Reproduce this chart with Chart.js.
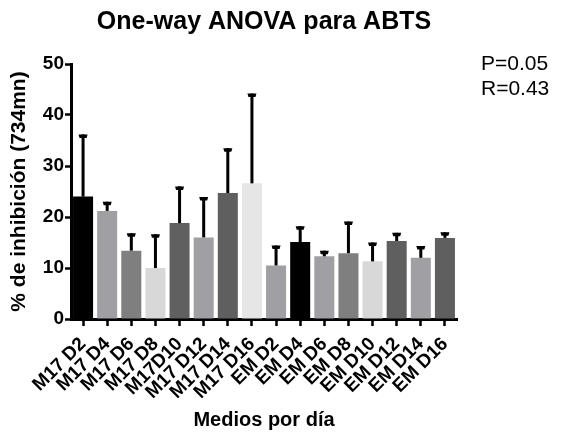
<!DOCTYPE html>
<html>
<head>
<meta charset="utf-8">
<script src="https://cdn.jsdelivr.net/npm/chart.js@4/dist/chart.umd.min.js"></script>
<style>
  html, body { margin: 0; padding: 0; background: #ffffff; }
  #wrap { width: 563px; height: 432px; }
</style>
</head>
<body>
<div id="wrap"><canvas id="c" width="563" height="432"></canvas></div>
<script>
// Groups (medium + day)
const categories = ['M17 D2', 'M17 D4', 'M17 D6', 'M17 D8', 'M17D10', 'M17 D12', 'M17 D14', 'M17 D16',
                    'EM D2', 'EM D4', 'EM D6', 'EM D8', 'EM D10', 'EM D12', 'EM D14', 'EM D16'];
// Mean % inhibition per group
const means = [24.0, 21.2, 13.4, 10.0, 18.8, 16.0, 24.7, 26.6, 10.5, 15.1, 12.3, 12.9, 11.3, 15.3, 12.0, 15.9];
// Standard deviation per group (upper error bar)
const sds = [12.2, 1.8, 3.4, 6.6, 7.2, 7.9, 8.8, 17.6, 3.9, 3.1, 1.1, 6.2, 3.7, 1.6, 2.3, 1.1];
// Fill shade per group
const shades = ['#000000', '#a0a0a4', '#7f7f7f', '#d8d8d8', '#606060', '#a0a0a4', '#5f5f5f', '#e6e6e6',
                '#a0a0a4', '#000000', '#a0a0a4', '#7f7f7f', '#d8d8d8', '#5f5f5f', '#a0a0a4', '#5f5f5f'];
const yTicks = [0, 10, 20, 30, 40, 50];
const statsText = ['P=0.05', 'R=0.43'];

const FONT = '"Liberation Sans", Arial, Helvetica, sans-serif';

// Upward SD whiskers with a cap on each bar
const errorBars = {
  id: 'errorBars',
  afterDatasetsDraw(chart) {
    const ctx = chart.ctx;
    const meta = chart.getDatasetMeta(0);
    const y = chart.scales.y;
    ctx.save();
    ctx.fillStyle = '#000000';
    meta.data.forEach((bar, i) => {
      const x = bar.x;
      const yMean = y.getPixelForValue(means[i]);
      const yTop = y.getPixelForValue(means[i] + sds[i]);
      ctx.fillRect(x - 1.5, yTop, 3, yMean - yTop);
      ctx.beginPath();
      ctx.moveTo(x - 4.5, yTop);
      ctx.lineTo(x + 4.5, yTop);
      ctx.lineTo(x + 3.5, yTop + 3.5);
      ctx.lineTo(x - 3.5, yTop + 3.5);
      ctx.closePath();
      ctx.fill();
    });
    ctx.restore();
  }
};

// P / R summary in the top-right corner
const statsLabel = {
  id: 'statsLabel',
  afterDraw(chart) {
    const ctx = chart.ctx;
    ctx.save();
    ctx.fillStyle = '#000000';
    ctx.font = '21px ' + FONT;
    ctx.textAlign = 'left';
    ctx.textBaseline = 'alphabetic';
    ctx.fillText(statsText[0], 481, 70);
    ctx.fillText(statsText[1], 481, 95);
    ctx.restore();
  }
};

new Chart(document.getElementById('c'), {
  type: 'bar',
  data: {
    labels: categories,
    datasets: [{
      data: means,
      backgroundColor: shades,
      borderWidth: 0,
      barPercentage: 0.83,
      categoryPercentage: 1.0
    }]
  },
  options: {
    responsive: false,
    devicePixelRatio: 1,
    animation: false,
    layout: { padding: { left: 0, right: 106, top: 0, bottom: 0 } },
    plugins: {
      legend: { display: false },
      tooltip: { enabled: false },
      title: {
        display: true,
        text: 'One-way ANOVA para ABTS',
        fullSize: false,
        color: '#000000',
        font: { family: FONT, size: 25, weight: 'bold', lineHeight: 1.2 },
        padding: { top: 7, bottom: 27 }
      }
    },
    scales: {
      x: {
        afterFit(scale) { scale.height = 113; },
        border: { display: true, color: '#000000', width: 3 },
        grid: {
          display: true, drawOnChartArea: false, offset: false,
          drawTicks: true, tickLength: 7, tickWidth: 2.5, tickColor: '#000000'
        },
        ticks: {
          autoSkip: false, minRotation: 45, maxRotation: 45, padding: 7,
          color: '#000000',
          font: { family: FONT, size: 19, weight: 'bold' }
        },
        title: {
          display: true,
          text: 'Medios por día',
          color: '#000000',
          font: { family: FONT, size: 20, weight: 'bold' },
          padding: { top: 0, bottom: 0 }
        }
      },
      y: {
        min: 0, max: 50,
        afterFit(scale) { scale.width = 71; },
        afterBuildTicks(scale) { scale.ticks = yTicks.map(v => ({ value: v })); },
        border: { display: true, color: '#000000', width: 3 },
        grid: {
          display: true, drawOnChartArea: false,
          drawTicks: true, tickLength: 6, tickWidth: 2.5, tickColor: '#000000'
        },
        ticks: {
          padding: 1,
          color: '#000000',
          font: { family: FONT, size: 19, weight: 'bold' }
        },
        title: {
          display: true,
          text: '% de inhibición (734mn)',
          color: '#000000',
          font: { family: FONT, size: 21, weight: 'bold' },
          padding: { top: 7, bottom: 0 }
        }
      }
    }
  },
  plugins: [errorBars, statsLabel]
});
</script>
</body>
</html>
